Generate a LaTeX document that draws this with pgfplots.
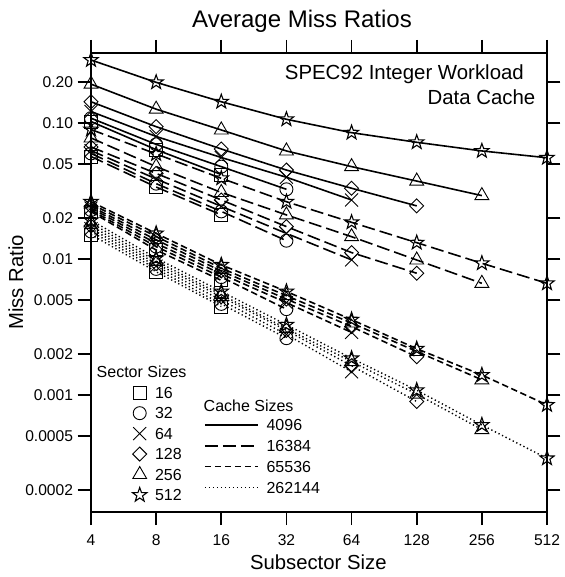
\documentclass[border=0pt]{standalone}
\usepackage{fontspec}
\setmainfont{Liberation Sans}
\usepackage{pgfplots}
\pgfplotsset{compat=1.18}

\pgfdeclareplotmark{osq}{\pgfpathrectanglecorners{\pgfpoint{-\pgfplotmarksize}{-\pgfplotmarksize}}{\pgfpoint{\pgfplotmarksize}{\pgfplotmarksize}}\pgfusepathqstroke}
\pgfdeclareplotmark{ocirc}{\pgfpathcircle{\pgfpointorigin}{\pgfplotmarksize}\pgfusepathqstroke}
\pgfdeclareplotmark{ox}{\pgfpathmoveto{\pgfpoint{-\pgfplotmarksize}{-\pgfplotmarksize}}\pgfpathlineto{\pgfpoint{\pgfplotmarksize}{\pgfplotmarksize}}\pgfpathmoveto{\pgfpoint{-\pgfplotmarksize}{\pgfplotmarksize}}\pgfpathlineto{\pgfpoint{\pgfplotmarksize}{-\pgfplotmarksize}}\pgfusepathqstroke}
\pgfdeclareplotmark{odia}{\pgfpathmoveto{\pgfpoint{0pt}{\pgfplotmarksize}}\pgfpathlineto{\pgfpoint{\pgfplotmarksize}{0pt}}\pgfpathlineto{\pgfpoint{0pt}{-\pgfplotmarksize}}\pgfpathlineto{\pgfpoint{-\pgfplotmarksize}{0pt}}\pgfpathclose\pgfusepathqstroke}
\pgfdeclareplotmark{otri}{\pgfpathmoveto{\pgfpointpolar{90}{\pgfplotmarksize}}\pgfpathlineto{\pgfpointpolar{210}{\pgfplotmarksize}}\pgfpathlineto{\pgfpointpolar{330}{\pgfplotmarksize}}\pgfpathclose\pgfusepathqstroke}
\pgfdeclareplotmark{ostar}{%
 \pgfpathmoveto{\pgfpointpolar{90}{\pgfplotmarksize}}%
 \pgfpathlineto{\pgfpointpolar{126}{0.4\pgfplotmarksize}}%
 \pgfpathlineto{\pgfpointpolar{162}{\pgfplotmarksize}}%
 \pgfpathlineto{\pgfpointpolar{198}{0.4\pgfplotmarksize}}%
 \pgfpathlineto{\pgfpointpolar{234}{\pgfplotmarksize}}%
 \pgfpathlineto{\pgfpointpolar{270}{0.4\pgfplotmarksize}}%
 \pgfpathlineto{\pgfpointpolar{306}{\pgfplotmarksize}}%
 \pgfpathlineto{\pgfpointpolar{342}{0.4\pgfplotmarksize}}%
 \pgfpathlineto{\pgfpointpolar{18}{\pgfplotmarksize}}%
 \pgfpathlineto{\pgfpointpolar{54}{0.4\pgfplotmarksize}}%
 \pgfpathclose\pgfusepathqstroke}

\tikzset{
 mk/.style={mark options={solid, line width=0.9pt, fill=none}},
 s16/.style={mark=osq, mark size=6.5pt, mk},
 s32/.style={mark=ocirc, mark size=6.5pt, mk},
 s64/.style={mark=ox, mark size=6.5pt, mk},
 s128/.style={mark=odia, mark size=7pt, mk},
 s256/.style={mark=otri, mark size=8pt, mk},
 s512/.style={mark=ostar, mark size=7.5pt, mark options={solid, line width=1.1pt, fill=none}},
 c4096/.style={solid, line width=1.6pt},
 c16384/.style={line width=1.6pt, dash pattern=on 13pt off 5pt},
 c65536/.style={line width=1.6pt, dash pattern=on 6.5pt off 3.5pt},
 c262144/.style={line width=1.4pt, dash pattern=on 1.3pt off 2.7pt},
}

\begin{document}
\begin{tikzpicture}
\begin{axis}[
 at={(91pt,65.3pt)}, anchor=south west, scale only axis,
 width=456pt, height=458.4pt,
 xmode=log, ymode=log, log basis x=2,
 xmin=4, xmax=512, ymin=0.0001394, ymax=0.327,
 xtick={4,8,16,32,64,128,256,512},
 xticklabels={4,8,16,32,64,128,256,512},
 ytick={0.0002,0.0005,0.001,0.002,0.005,0.01,0.02,0.05,0.1,0.2},
 yticklabels={0.0002,0.0005,0.001,0.002,0.005,0.01,0.02,0.05,0.10,0.20},
 xminorticks=false, yminorticks=false,
 tick align=outside, major tick length=13.5pt,
 every tick/.style={black, line width=1.8pt},
 axis line style={line width=2pt},
 clip=false,
 tick label style={font=\fontsize{15.6}{18}\selectfont},
 xticklabel style={yshift=-6pt},
 yticklabel style={xshift=-1pt},
 /pgf/number format/assume math mode=true,
 legend image code/.code={\draw[#1] plot coordinates {(0pt,0pt)};},
 legend style={draw=none, fill=none, inner sep=0pt, outer sep=0pt,
   at={(0.0912,0.2819)}, anchor=north west, row sep=0pt, column sep=8.2pt,
   nodes={inner sep=0pt, anchor=west, minimum height=20.46pt, text height=11.5pt, text depth=0pt,
   font=\fontsize{16}{19}\selectfont},
   cells={anchor=west}},
]
% cache 4096
\addplot[c4096, s16, forget plot] coordinates {(4,0.103)(8,0.064)(16,0.042)};
\addplot[c4096, s32, forget plot] coordinates {(4,0.109)(8,0.070)(16,0.048)(32,0.0327)};
\addplot[c4096, s64, forget plot] coordinates {(4,0.122)(8,0.080)(16,0.056)(32,0.0401)(64,0.0273)};
\addplot[c4096, s128, forget plot] coordinates {(4,0.144)(8,0.0944)(16,0.0647)(32,0.0453)(64,0.0333)(128,0.0247)};
\addplot[c4096, s256, forget plot] coordinates {(4,0.194)(8,0.127)(16,0.0893)(32,0.0626)(64,0.048)(128,0.0376)(256,0.0294)};
\addplot[c4096, s512, forget plot] coordinates {(4,0.292)(8,0.200)(16,0.144)(32,0.107)(64,0.0853)(128,0.0725)(256,0.0626)(512,0.0558)};
% cache 16384
\addplot[c16384, s16, forget plot] coordinates {(4,0.057)(8,0.034)(16,0.0212)};
\addplot[c16384, s32, forget plot] coordinates {(4,0.060)(8,0.036)(16,0.0225)(32,0.0137)};
\addplot[c16384, s64, forget plot] coordinates {(4,0.063)(8,0.039)(16,0.0245)(32,0.0155)(64,0.0099)};
\addplot[c16384, s128, forget plot] coordinates {(4,0.067)(8,0.0428)(16,0.0273)(32,0.0174)(64,0.0112)(128,0.0079)};
\addplot[c16384, s256, forget plot] coordinates {(4,0.078)(8,0.048)(16,0.031)(32,0.0212)(64,0.01466)(128,0.00988)(256,0.00666)};
\addplot[c16384, s512, forget plot] coordinates {(4,0.090)(8,0.0595)(16,0.0394)(32,0.0265)(64,0.0187)(128,0.01325)(256,0.00935)(512,0.00666)};
% cache 65536
\addplot[c65536, s16, forget plot] coordinates {(4,0.0224)(8,0.0117)(16,0.0070)};
\addplot[c65536, s32, forget plot] coordinates {(4,0.0230)(8,0.0124)(16,0.0074)(32,0.0043)};
\addplot[c65536, s64, forget plot] coordinates {(4,0.0238)(8,0.0131)(16,0.0078)(32,0.0048)(64,0.0029)};
\addplot[c65536, s128, forget plot] coordinates {(4,0.0245)(8,0.0139)(16,0.0082)(32,0.0051)(64,0.0032)(128,0.00192)};
\addplot[c65536, s256, forget plot] coordinates {(4,0.0255)(8,0.0147)(16,0.0086)(32,0.0054)(64,0.0034)(128,0.0021)(256,0.0013)};
\addplot[c65536, s512, forget plot] coordinates {(4,0.0265)(8,0.0155)(16,0.0091)(32,0.0058)(64,0.0036)(128,0.0022)(256,0.00141)(512,0.00085)};
% cache 262144
\addplot[c262144, s16, forget plot] coordinates {(4,0.0152)(8,0.0081)(16,0.0045)};
\addplot[c262144, s32, forget plot] coordinates {(4,0.0160)(8,0.0085)(16,0.0047)(32,0.00263)};
\addplot[c262144, s64, forget plot] coordinates {(4,0.0168)(8,0.0089)(16,0.0050)(32,0.0028)(64,0.00149)};
\addplot[c262144, s128, forget plot] coordinates {(4,0.0176)(8,0.0093)(16,0.0053)(32,0.0030)(64,0.00165)(128,0.00090)};
\addplot[c262144, s256, forget plot] coordinates {(4,0.0185)(8,0.0097)(16,0.0055)(32,0.0031)(64,0.00177)(128,0.00102)(256,0.00056)};
\addplot[c262144, s512, forget plot] coordinates {(4,0.0194)(8,0.0102)(16,0.0058)(32,0.0033)(64,0.00187)(128,0.00109)(256,0.000605)(512,0.000344)};
\addlegendimage{s16}\addlegendentry{16}
\addlegendimage{s32}\addlegendentry{32}
\addlegendimage{s64}\addlegendentry{64}
\addlegendimage{s128}\addlegendentry{128}
\addlegendimage{s256}\addlegendentry{256}
\addlegendimage{s512}\addlegendentry{512}
\end{axis}
\begin{axis}[
 at={(91pt,65.3pt)}, anchor=south west, scale only axis,
 width=456pt, height=458.4pt, hide axis,
 xmin=0, xmax=1, ymin=0, ymax=1,
 legend image code/.code={\draw[#1] (0pt,0pt) -- (53pt,0pt);},
 legend style={draw=none, fill=none, inner sep=0pt, outer sep=0pt,
   at={(0.2478,0.2118)}, anchor=north west, row sep=0pt, column sep=8pt,
   nodes={inner sep=0pt, anchor=west, minimum height=20.77pt, text height=11.5pt, text depth=0pt,
   font=\fontsize{16}{19}\selectfont},
   cells={anchor=west}},
]
\addplot[draw=none, forget plot] coordinates {(0.5,0.5)};
\addlegendimage{c4096}\addlegendentry{4096}
\addlegendimage{c16384}\addlegendentry{16384}
\addlegendimage{c65536}\addlegendentry{65536}
\addlegendimage{c262144}\addlegendentry{262144}
\end{axis}
\node[anchor=base west, inner sep=0pt, font=\fontsize{16}{19}\selectfont] at (96.5pt,199.3pt) {Sector Sizes};
\node[anchor=base west, inner sep=0pt, font=\fontsize{16}{19}\selectfont] at (203.5pt,165.6pt) {Cache Sizes};
\node[anchor=base east, inner sep=0pt, font=\fontsize{20.4}{24}\selectfont] at (524pt,497.5pt) {SPEC92 Integer Workload};
\node[anchor=base east, inner sep=0pt, font=\fontsize{20.4}{24}\selectfont] at (535.5pt,472.5pt) {Data Cache};
\node[anchor=base, inner sep=0pt, font=\fontsize{24}{28}\selectfont] at (302pt,549pt) {Average Miss Ratios};
\node[anchor=base, inner sep=0pt, font=\fontsize{20.3}{24}\selectfont] at (318.3pt,7pt) {Subsector Size};
\node[anchor=base, inner sep=0pt, rotate=90, font=\fontsize{20.3}{24}\selectfont] at (23pt,294.5pt) {Miss Ratio};
\pgfresetboundingbox
\path[use as bounding box] (0,0) rectangle (564pt,577pt);
\end{tikzpicture}
\end{document}
